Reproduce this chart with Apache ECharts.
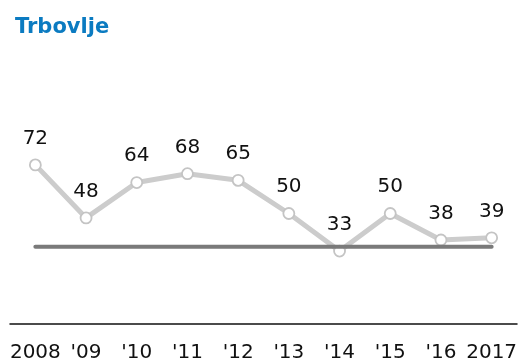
<!DOCTYPE html>
<html>
<head>
<meta charset="utf-8">
<script src="https://cdn.jsdelivr.net/npm/echarts@6/dist/echarts.min.js"></script>
<style>
  html, body { margin: 0; padding: 0; background: #ffffff; }
  #chart { width: 523px; height: 363px; }
</style>
</head>
<body>
<div id="chart"></div>
<script>
// Yearly values for Trbovlje, 2008–2017
var years = ['2008', "'09", "'10", "'11", "'12", "'13", "'14", "'15", "'16", '2017'];
var values = [72, 48, 64, 68, 65, 50, 33, 50, 38, 39];
// Reference level drawn as a flat dark line across all years
var referenceLevel = 35;
var referenceValues = years.map(function () { return referenceLevel; });

var chart = echarts.init(document.getElementById('chart'), null, { renderer: 'canvas' });

chart.setOption({
  animation: false,
  backgroundColor: '#ffffff',
  title: {
    text: 'Trbovlje',
    left: 15,
    top: 17,
    padding: 0,
    textStyle: {
      fontFamily: 'DejaVu Sans',
      fontWeight: 'bold',
      fontSize: 21,
      color: '#0b7bc1'
    }
  },
  grid: { left: 10, right: 6, top: 103, bottom: 37, containLabel: false },
  xAxis: {
    type: 'category',
    data: years,
    boundaryGap: true,
    axisLine: { show: true, lineStyle: { color: '#111111', width: 1.5 } },
    axisTick: { show: false },
    axisLabel: {
      margin: 19,
      fontFamily: 'DejaVu Sans',
      fontSize: 20,
      color: '#111111',
      interval: 0
    },
    splitLine: { show: false }
  },
  yAxis: {
    type: 'value',
    min: 0,
    max: 100,
    show: false,
    splitLine: { show: false }
  },
  series: [
    {
      type: 'line',
      data: values,
      z: 2,
      symbol: 'circle',
      symbolSize: 11,
      lineStyle: { color: '#cccccc', width: 5 },
      itemStyle: { color: '#ffffff', borderColor: '#c4c4c4', borderWidth: 1.8 },
      label: {
        show: true,
        position: 'top',
        distance: 10,
        fontFamily: 'DejaVu Sans',
        fontSize: 20,
        color: '#111111'
      }
    },
    {
      type: 'line',
      data: referenceValues,
      z: 3,
      symbol: 'none',
      lineStyle: { color: '#7a7a7a', width: 4, cap: 'round' },
      silent: true
    }
  ]
});
</script>
</body>
</html>
